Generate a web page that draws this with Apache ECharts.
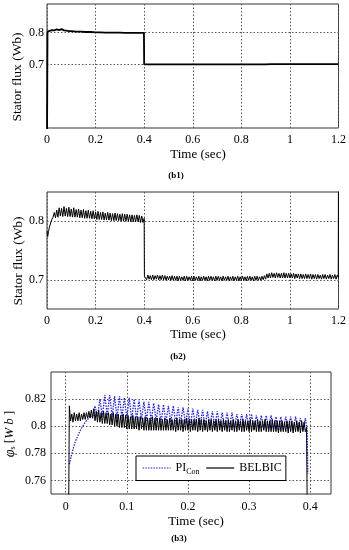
<!DOCTYPE html>
<html><head><meta charset="utf-8">
<script src="https://cdn.jsdelivr.net/npm/echarts@6/dist/echarts.min.js"></script>
<style>html,body{margin:0;padding:0;background:#fff}#c{width:349px;height:550px}</style>
</head><body><div id="c"></div>
<script>
// ---------- (b1) ----------
const b1Time = [0, 0.002, 0.01, 0.02, 0.03, 0.04, 0.05, 0.06, 0.07, 0.08,
  0.09, 0.1, 0.12, 0.14, 0.16, 0.18, 0.2, 0.22, 0.24, 0.26,
  0.28, 0.3, 0.32, 0.34, 0.36, 0.38, 0.399, 0.4, 0.42, 0.45,
  0.5, 0.55, 0.6, 0.65, 0.7, 0.75, 0.8, 0.85, 0.9, 0.92,
  0.95, 1.0, 1.05, 1.1, 1.15, 1.2];
const b1Flux = [0.45, 0.803, 0.806, 0.808, 0.807, 0.810, 0.808, 0.811, 0.807, 0.806,
  0.805, 0.805, 0.803, 0.803, 0.802, 0.802, 0.801, 0.801, 0.800, 0.800,
  0.800, 0.800, 0.799, 0.799, 0.799, 0.799, 0.799, 0.700, 0.700, 0.700,
  0.700, 0.700, 0.700, 0.700, 0.700, 0.700, 0.700, 0.700, 0.700, 0.701,
  0.701, 0.701, 0.701, 0.701, 0.701, 0.701];

// ---------- (b2) ----------
const b2Time = [0, 0.003, 0.006, 0.01, 0.015, 0.02, 0.025,
  0.030, 0.035, 0.040, 0.045, 0.050, 0.055, 0.060, 0.065, 0.070, 0.075,
  0.080, 0.085, 0.090, 0.095, 0.100, 0.105, 0.110, 0.115, 0.120, 0.125,
  0.130, 0.135, 0.140, 0.145, 0.150, 0.155, 0.160, 0.165, 0.170, 0.175,
  0.180, 0.185, 0.190, 0.195, 0.200, 0.205, 0.210, 0.215, 0.220, 0.225,
  0.230, 0.235, 0.240, 0.245, 0.250, 0.255, 0.260, 0.265, 0.270, 0.275,
  0.280, 0.285, 0.290, 0.295, 0.300, 0.305, 0.310, 0.315, 0.320, 0.325,
  0.330, 0.335, 0.340, 0.345, 0.350, 0.355, 0.360, 0.365, 0.370, 0.375,
  0.380, 0.385, 0.390, 0.395,
  0.400, 0.401,
  0.405, 0.410, 0.415, 0.420, 0.425, 0.430, 0.435, 0.440, 0.445, 0.450,
  0.455, 0.460, 0.465, 0.470, 0.475, 0.480, 0.485, 0.490, 0.495, 0.500,
  0.505, 0.510, 0.515, 0.520, 0.525, 0.530, 0.535, 0.540, 0.545, 0.550,
  0.555, 0.560, 0.565, 0.570, 0.575, 0.580, 0.585, 0.590, 0.595, 0.600,
  0.605, 0.610, 0.615, 0.620, 0.625, 0.630, 0.635, 0.640, 0.645, 0.650,
  0.655, 0.660, 0.665, 0.670, 0.675, 0.680, 0.685, 0.690, 0.695, 0.700,
  0.705, 0.710, 0.715, 0.720, 0.725, 0.730, 0.735, 0.740, 0.745, 0.750,
  0.755, 0.760, 0.765, 0.770, 0.775, 0.780, 0.785, 0.790, 0.795, 0.800,
  0.805, 0.810, 0.815, 0.820, 0.825, 0.830, 0.835, 0.840, 0.845, 0.850,
  0.855, 0.860, 0.865, 0.870, 0.875, 0.880, 0.885, 0.890, 0.895, 0.900,
  0.905, 0.910, 0.915, 0.920, 0.925, 0.930, 0.935, 0.940, 0.945, 0.950,
  0.955, 0.960, 0.965, 0.970, 0.975, 0.980, 0.985, 0.990, 0.995, 1.000,
  1.005, 1.010, 1.015, 1.020, 1.025, 1.030, 1.035, 1.040, 1.045, 1.050,
  1.055, 1.060, 1.065, 1.070, 1.075, 1.080, 1.085, 1.090, 1.095, 1.100,
  1.105, 1.110, 1.115, 1.120, 1.125, 1.130, 1.135, 1.140, 1.145, 1.150,
  1.155, 1.160, 1.165, 1.170, 1.175, 1.180, 1.185, 1.190, 1.195,
  1.199, 1.2];
const b2Flux = [0.783, 0.774, 0.782, 0.790, 0.797, 0.803, 0.807,
  0.815, 0.806, 0.819, 0.807, 0.823, 0.809, 0.822, 0.808, 0.825, 0.809,
  0.822, 0.808, 0.824, 0.808, 0.821, 0.807, 0.823, 0.807, 0.820, 0.807,
  0.821, 0.806, 0.819, 0.806, 0.820, 0.805, 0.818, 0.805, 0.819, 0.805,
  0.817, 0.804, 0.818, 0.804, 0.816, 0.803, 0.817, 0.803, 0.815, 0.803,
  0.816, 0.802, 0.814, 0.802, 0.815, 0.802, 0.814, 0.801, 0.813, 0.801,
  0.814, 0.801, 0.813, 0.801, 0.812, 0.800, 0.813, 0.800, 0.812, 0.800,
  0.812, 0.800, 0.811, 0.799, 0.811, 0.799, 0.810, 0.799, 0.811, 0.799,
  0.810, 0.798, 0.809, 0.798,
  0.805, 0.706,
  0.708, 0.700, 0.708, 0.701, 0.707, 0.700, 0.708, 0.700, 0.707, 0.701,
  0.708, 0.700, 0.707, 0.700, 0.708, 0.700, 0.707, 0.699, 0.706, 0.700,
  0.706, 0.699, 0.707, 0.699, 0.706, 0.699, 0.706, 0.698, 0.706, 0.699,
  0.705, 0.699, 0.706, 0.698, 0.706, 0.699, 0.705, 0.699, 0.706, 0.698,
  0.706, 0.699, 0.705, 0.699, 0.706, 0.698, 0.705, 0.699, 0.706, 0.699,
  0.705, 0.698, 0.706, 0.699, 0.706, 0.699, 0.705, 0.698, 0.706, 0.699,
  0.706, 0.699, 0.705, 0.698, 0.706, 0.699, 0.705, 0.699, 0.706, 0.698,
  0.705, 0.699, 0.706, 0.698, 0.705, 0.699, 0.706, 0.698, 0.705, 0.699,
  0.706, 0.699, 0.705, 0.698, 0.706, 0.699, 0.706, 0.699, 0.705, 0.698,
  0.706, 0.699, 0.706, 0.699, 0.705, 0.699, 0.706, 0.700, 0.707, 0.701,
  0.710, 0.703, 0.711, 0.703, 0.712, 0.704, 0.711, 0.703, 0.712, 0.704,
  0.711, 0.703, 0.711, 0.703, 0.712, 0.703, 0.711, 0.703, 0.711, 0.703,
  0.710, 0.703, 0.711, 0.702, 0.710, 0.703, 0.710, 0.702, 0.710, 0.702,
  0.709, 0.702, 0.710, 0.702, 0.709, 0.702, 0.710, 0.701, 0.709, 0.702,
  0.709, 0.701, 0.709, 0.702, 0.708, 0.701, 0.709, 0.702, 0.709, 0.701,
  0.708, 0.702, 0.709, 0.701, 0.708, 0.702, 0.709, 0.701, 0.708,
  0.704, 0.9];

// ---------- (b3) ----------
const b3PITime = [0.005, 0.006,
  0.008, 0.012, 0.016, 0.020, 0.024, 0.028, 0.032, 0.036, 0.040, 0.044,
  0.048, 0.052, 0.056, 0.060, 0.064, 0.068, 0.072, 0.076, 0.080, 0.084,
  0.088, 0.092, 0.096, 0.100, 0.104, 0.108, 0.112, 0.116, 0.120, 0.124,
  0.128, 0.132, 0.136, 0.140, 0.144, 0.148, 0.152, 0.156, 0.160, 0.164,
  0.168, 0.172, 0.176, 0.180, 0.184, 0.188, 0.192, 0.196, 0.200, 0.204,
  0.208, 0.212, 0.216, 0.220, 0.224, 0.228, 0.232, 0.236, 0.240, 0.244,
  0.248, 0.252, 0.256, 0.260, 0.264, 0.268, 0.272, 0.276, 0.280, 0.284,
  0.288, 0.292, 0.296, 0.300, 0.304, 0.308, 0.312, 0.316, 0.320, 0.324,
  0.328, 0.332, 0.336, 0.340, 0.344, 0.348, 0.352, 0.356, 0.360, 0.364,
  0.368, 0.372, 0.376, 0.380, 0.384, 0.388, 0.392,
  0.395, 0.396];
const b3PI = [null, 0.772,
  0.776, 0.783, 0.789, 0.793, 0.797, 0.800, 0.803, 0.805, 0.808, 0.806,
  0.815, 0.807, 0.820, 0.807, 0.823, 0.808, 0.823, 0.807, 0.822, 0.806,
  0.822, 0.806, 0.821, 0.806, 0.821, 0.805, 0.820, 0.805, 0.819, 0.805,
  0.818, 0.804, 0.818, 0.804, 0.817, 0.804, 0.816, 0.803, 0.816, 0.803,
  0.815, 0.803, 0.815, 0.802, 0.814, 0.802, 0.814, 0.802, 0.813, 0.801,
  0.813, 0.801, 0.812, 0.801, 0.812, 0.800, 0.811, 0.800, 0.811, 0.800,
  0.811, 0.800, 0.810, 0.799, 0.810, 0.799, 0.810, 0.799, 0.809, 0.799,
  0.809, 0.799, 0.809, 0.798, 0.809, 0.798, 0.808, 0.798, 0.808, 0.798,
  0.808, 0.798, 0.808, 0.798, 0.807, 0.797, 0.807, 0.797, 0.807, 0.797,
  0.807, 0.797, 0.807, 0.797, 0.806, 0.797, 0.806,
  0.797, 0.765];
const b3BelTime = [0.005, 0.006,
  0.008, 0.010, 0.012, 0.014, 0.016, 0.018, 0.020, 0.022, 0.024, 0.026,
  0.028, 0.030, 0.032, 0.034, 0.036, 0.038, 0.040, 0.042, 0.044, 0.046,
  0.048, 0.050, 0.052, 0.054, 0.056, 0.058, 0.060, 0.062, 0.064, 0.066,
  0.068, 0.070, 0.072, 0.074, 0.076, 0.078, 0.080, 0.082, 0.084, 0.086,
  0.088, 0.090, 0.092, 0.094, 0.096, 0.098, 0.100, 0.102, 0.104, 0.106,
  0.108, 0.110, 0.112, 0.114, 0.116, 0.118, 0.120, 0.122, 0.124, 0.126,
  0.128, 0.130, 0.132, 0.134, 0.136, 0.138, 0.140, 0.142, 0.144, 0.146,
  0.148, 0.150, 0.152, 0.154, 0.156, 0.158, 0.160, 0.162, 0.164, 0.166,
  0.168, 0.170, 0.172, 0.174, 0.176, 0.178, 0.180, 0.182, 0.184, 0.186,
  0.188, 0.190, 0.192, 0.194, 0.196, 0.198, 0.200, 0.202, 0.204, 0.206,
  0.208, 0.210, 0.212, 0.214, 0.216, 0.218, 0.220, 0.222, 0.224, 0.226,
  0.228, 0.230, 0.232, 0.234, 0.236, 0.238, 0.240, 0.242, 0.244, 0.246,
  0.248, 0.250, 0.252, 0.254, 0.256, 0.258, 0.260, 0.262, 0.264, 0.266,
  0.268, 0.270, 0.272, 0.274, 0.276, 0.278, 0.280, 0.282, 0.284, 0.286,
  0.288, 0.290, 0.292, 0.294, 0.296, 0.298, 0.300, 0.302, 0.304, 0.306,
  0.308, 0.310, 0.312, 0.314, 0.316, 0.318, 0.320, 0.322, 0.324, 0.326,
  0.328, 0.330, 0.332, 0.334, 0.336, 0.338, 0.340, 0.342, 0.344, 0.346,
  0.348, 0.350, 0.352, 0.354, 0.356, 0.358, 0.360, 0.362, 0.364, 0.366,
  0.368, 0.370, 0.372, 0.374, 0.376, 0.378, 0.380, 0.382, 0.384, 0.386,
  0.388, 0.390, 0.392,
  0.394, 0.395];
const b3BELBIC = [0.745, 0.815,
  0.804, 0.809, 0.803, 0.810, 0.804, 0.809, 0.804, 0.810, 0.804, 0.809,
  0.805, 0.810, 0.805, 0.810, 0.806, 0.811, 0.806, 0.812, 0.806, 0.813,
  0.804, 0.811, 0.803, 0.812, 0.803, 0.810, 0.802, 0.811, 0.802, 0.810,
  0.802, 0.810, 0.801, 0.809, 0.801, 0.810, 0.800, 0.809, 0.800, 0.809,
  0.799, 0.808, 0.799, 0.809, 0.799, 0.808, 0.798, 0.808, 0.798, 0.807,
  0.798, 0.808, 0.798, 0.807, 0.798, 0.807, 0.797, 0.807, 0.798, 0.806,
  0.797, 0.807, 0.797, 0.806, 0.797, 0.806, 0.797, 0.807, 0.797, 0.806,
  0.797, 0.806, 0.797, 0.806, 0.797, 0.805, 0.797, 0.806, 0.797, 0.805,
  0.797, 0.806, 0.797, 0.805, 0.797, 0.805, 0.796, 0.806, 0.797, 0.805,
  0.797, 0.805, 0.796, 0.805, 0.797, 0.806, 0.797, 0.805, 0.796, 0.805,
  0.797, 0.805, 0.797, 0.805, 0.796, 0.806, 0.797, 0.805, 0.796, 0.805,
  0.797, 0.804, 0.796, 0.805, 0.797, 0.805, 0.796, 0.804, 0.797, 0.805,
  0.796, 0.805, 0.797, 0.804, 0.796, 0.805, 0.797, 0.804, 0.796, 0.805,
  0.796, 0.804, 0.797, 0.805, 0.796, 0.804, 0.796, 0.805, 0.797, 0.804,
  0.796, 0.805, 0.796, 0.804, 0.797, 0.804, 0.796, 0.805, 0.796, 0.804,
  0.797, 0.804, 0.796, 0.805, 0.796, 0.804, 0.796, 0.804, 0.797, 0.805,
  0.796, 0.804, 0.796, 0.804, 0.796, 0.805, 0.796, 0.804, 0.796, 0.804,
  0.795, 0.804, 0.796, 0.804, 0.796, 0.803, 0.796, 0.804, 0.795, 0.804,
  0.796, 0.804, 0.795, 0.803, 0.796, 0.804, 0.796, 0.803, 0.795, 0.804,
  0.796, 0.803, 0.796,
  0.799, 0.745];

// ---------- ticks ----------
const b12XTicks = [0, 0.2, 0.4, 0.6, 0.8, 1, 1.2];
const b12YTicks = [0.7, 0.8];
const b3XTicks = [0, 0.1, 0.2, 0.3, 0.4];
const b3YTicks = [0.76, 0.78, 0.8, 0.82];

const FF = '"Liberation Serif", "Times New Roman", serif';
const pair = (t, v) => t.map((x, i) => [x, v[i]]);
const fmt = v => String(Math.round(v * 1000) / 1000);
const grid = (l, t, w, h) => ({left: l, top: t, width: w, height: h, show: true,
  borderColor: '#333', borderWidth: 1, backgroundColor: '#fff'});
const split = {show: true, lineStyle: {color: '#555', width: 1, type: [1.5, 2]}};
function ax(gi, min, max, ticks, margin) {
  return {type: 'value', gridIndex: gi, min, max,
    axisLine: {show: false}, axisTick: {show: false, customValues: ticks},
    axisLabel: {customValues: ticks, formatter: fmt, fontFamily: FF, fontSize: 12, color: '#000', margin},
    splitLine: split};
}
function txt(x, y, s, size, extra, weight) {
  return Object.assign({type: 'text', x, y, style: {text: s, fontFamily: FF, fontSize: size, fill: '#000',
    fontWeight: weight || 'normal', align: 'center', verticalAlign: 'middle'}}, extra || {});
}

const chart = echarts.init(document.getElementById('c'), null, {renderer: 'canvas'});
chart.setOption({
  animation: false,
  backgroundColor: '#fff',
  grid: [grid(47, 4, 292, 124), grid(47, 192, 293, 117), grid(51, 372, 280, 122)],
  xAxis: [ax(0, 0, 1.2, b12XTicks, 6), ax(1, 0, 1.2, b12XTicks, 6), ax(2, -0.024, 0.434, b3XTicks, 7)],
  yAxis: [ax(0, 0.5, 0.89, b12YTicks, 3), ax(1, 0.65, 0.85, b12YTicks, 3), ax(2, 0.75, 0.84, b3YTicks, 5)],
  legend: {
    data: ['PI_Con', 'BELBIC'], left: 136, top: 456,
    backgroundColor: '#fff', borderColor: '#000', borderWidth: 1, borderRadius: 0,
    padding: [6, 4, 5, 6], itemWidth: 28, itemHeight: 10, itemGap: 6,
    itemStyle: {opacity: 0}, lineStyle: {width: 1.2},
    formatter: n => n === 'PI_Con' ? '{a|PI}{b|Con}' : '{a|' + n + '}',
    textStyle: {fontFamily: FF, fontSize: 12, color: '#000',
      rich: {a: {fontFamily: FF, fontSize: 12, color: '#000'},
             b: {fontFamily: FF, fontSize: 8, color: '#000', padding: [7, 0, 0, 0]}}}
  },
  series: [
    {name: 'b1', type: 'line', xAxisIndex: 0, yAxisIndex: 0, data: pair(b1Time, b1Flux),
     showSymbol: false, symbol: 'none', lineStyle: {color: '#000', width: 1.8}},
    {name: 'b2', type: 'line', xAxisIndex: 1, yAxisIndex: 1, data: pair(b2Time, b2Flux),
     showSymbol: false, symbol: 'none', lineStyle: {color: '#000', width: 1}},
    {name: 'PI_Con', type: 'line', xAxisIndex: 2, yAxisIndex: 2, data: pair(b3PITime, b3PI),
     showSymbol: false, symbol: 'none', itemStyle: {color: '#1f1fff'},
     lineStyle: {color: '#1f1fff', width: 1.3, type: [1.5, 1.2]}},
    {name: 'BELBIC', type: 'line', xAxisIndex: 2, yAxisIndex: 2, data: pair(b3BelTime, b3BELBIC),
     showSymbol: false, symbol: 'none', itemStyle: {color: '#000'},
     lineStyle: {color: '#000', width: 1}}
  ],
  graphic: [
    txt(198, 155, 'Time (sec)', 13),
    txt(198, 335, 'Time (sec)', 13),
    txt(196, 522, 'Time (sec)', 13),
    txt(176, 176, '(b1)', 9, null, 'bold'),
    txt(178, 357, '(b2)', 9, null, 'bold'),
    txt(179, 539, '(b3)', 9, null, 'bold'),
    txt(17, 77, 'Stator flux (Wb)', 13.5, {rotation: Math.PI / 2}),
    txt(18, 261, 'Stator flux (Wb)', 13.5, {rotation: Math.PI / 2}),
    {type: 'text', x: 10, y: 434, rotation: Math.PI / 2,
     style: {text: '{p|φ}{s|s}{n| [}{i|W b}{n| ]}', align: 'center', verticalAlign: 'middle',
       fontFamily: FF, fontSize: 13, fill: '#000',
       rich: {p: {fontFamily: FF, fontSize: 14, fontStyle: 'italic', fill: '#000'},
              s: {fontFamily: FF, fontSize: 8, fill: '#000', padding: [6, 0, 0, 0]},
              n: {fontFamily: FF, fontSize: 13, fill: '#000'},
              i: {fontFamily: FF, fontSize: 13, fontStyle: 'italic', fill: '#000'}}}}
  ]
});
</script>
</body></html>
